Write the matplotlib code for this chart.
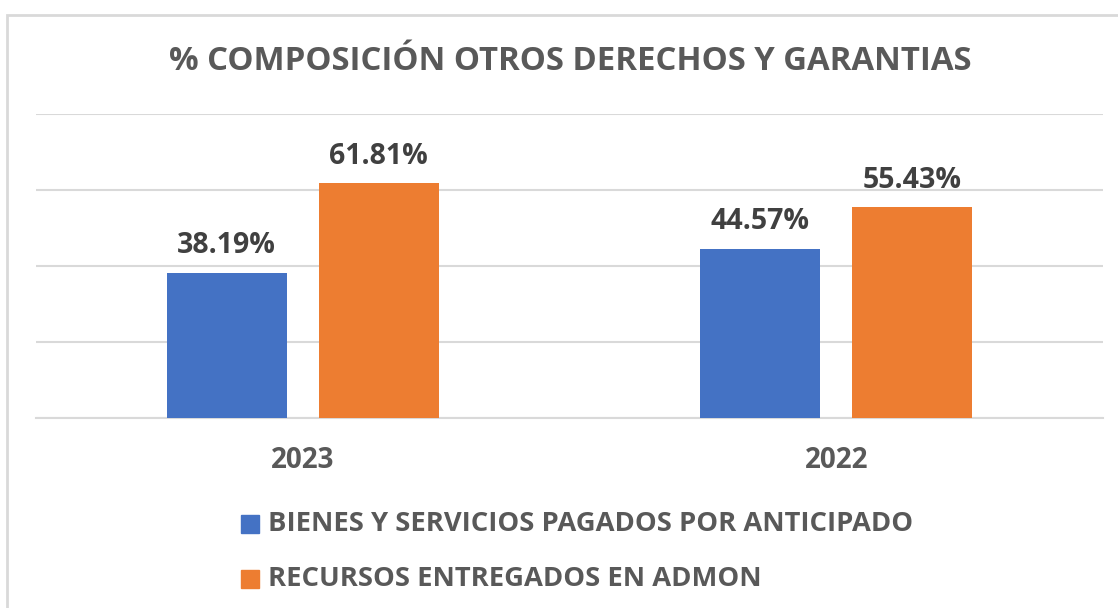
import matplotlib
matplotlib.use("Agg")
import matplotlib.pyplot as plt
from matplotlib.patches import Rectangle
import numpy as np

# datos
categorias = ["2023", "2022"]
bienes = [38.19, 44.57]
recursos = [61.81, 55.43]
series = ["BIENES Y SERVICIOS PAGADOS POR ANTICIPADO", "RECURSOS ENTREGADOS EN ADMON"]

azul = "#4472C4"
naranja = "#ED7D31"
gris_txt = "#595959"
gris_lbl = "#404040"

plt.rcParams["font.family"] = ["Open Sans", "DejaVu Sans"]

W, H = 1118, 608
fig = plt.figure(figsize=(W / 100, H / 100), dpi=100)

# borde del grafico (solo se ve arriba y a la izquierda)
fig.patches.append(Rectangle((7 / W, -0.1), 1.2, 1 - 15 / H + 0.1, transform=fig.transFigure,
                             fill=False, edgecolor="#d9d9d9", linewidth=2))

ax = fig.add_axes([36 / W, 1 - 418 / H, (1103 - 36) / W, (418 - 114) / H])
x = np.arange(len(categorias))
ancho = 0.225
off = 0.1425
b1 = ax.bar(x - off, bienes, ancho, color=azul, zorder=3)
b2 = ax.bar(x + off, recursos, ancho, color=naranja, zorder=3)

for barras in (b1, b2):
    for r in barras:
        v = r.get_height()
        ax.annotate(f"{v:.2f}%", (r.get_x() + r.get_width() / 2, v), xytext=(0, 9),
                    textcoords="offset points", ha="center", va="bottom",
                    fontsize=20.5, fontweight="bold", color=gris_lbl)

ax.set_xlim(-0.5, 1.5)
ax.set_ylim(0, 80)
ax.set_yticks([0, 20, 40, 60, 80])
ax.yaxis.grid(True, color="#d9d9d9", linewidth=1.5, zorder=0)
ax.tick_params(axis="y", left=False, labelleft=False)
ax.tick_params(axis="x", bottom=False, pad=17)
ax.set_xticks(x)
ax.set_xticklabels(categorias, fontsize=20, fontweight="bold", color=gris_txt)
for s in ["top", "right", "left"]:
    ax.spines[s].set_visible(False)
ax.spines["bottom"].set_color("#d9d9d9")
ax.spines["bottom"].set_linewidth(1.5)

fig.text(570 / W, 1 - 61 / H, "% COMPOSICIÓN OTROS DERECHOS Y GARANTIAS", ha="center", va="center",
         fontsize=23.7, fontweight="bold", color=gris_txt)

# leyenda
for i, (nombre, col) in enumerate(zip(series, [azul, naranja])):
    yc = 524 + i * 55
    fig.patches.append(Rectangle((241 / W, 1 - (yc + 9) / H), 18 / W, 18 / H,
                                 transform=fig.transFigure, color=col))
    fig.text(268 / W, 1 - yc / H, nombre, ha="left", va="center",
             fontsize=19.7, fontweight="bold", color=gris_txt)

fig.savefig("out.png", dpi=100)
